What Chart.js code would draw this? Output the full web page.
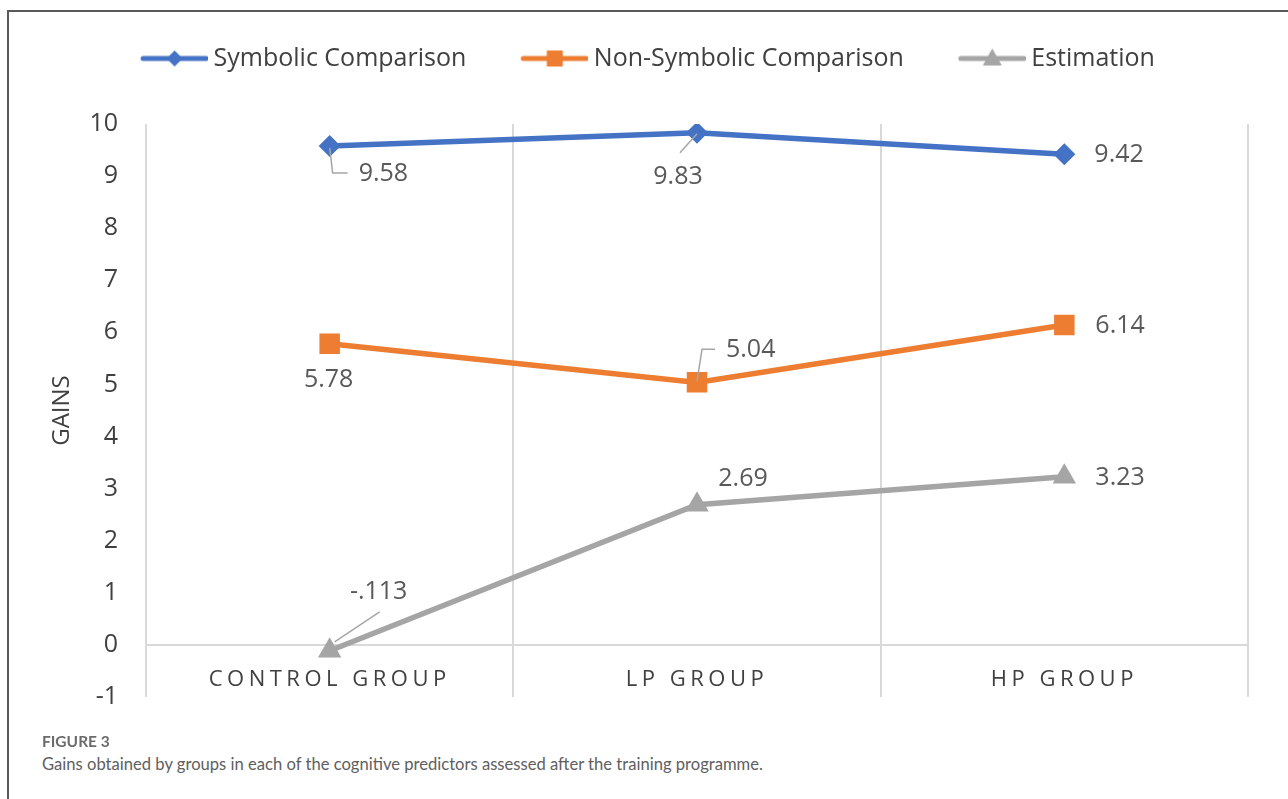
<!DOCTYPE html>
<html>
<head>
<meta charset="utf-8">
<script src="https://cdn.jsdelivr.net/npm/chart.js@4.4.1/dist/chart.umd.min.js"></script>
<style>
  html, body { margin: 0; padding: 0; background: #fff; width: 1288px; height: 799px; overflow: hidden; }
  #frame { position: absolute; left: 7px; top: 10px; width: 1400px; height: 900px; border: 2px solid #5a5a5a; box-sizing: border-box; }
  #wrap { position: absolute; left: 0; top: 0; width: 1288px; height: 740px; }
  #fig { position: absolute; left: 42px; top: 732px; font-family: Lato, "Open Sans", sans-serif; font-weight: 700; font-size: 15.5px; color: #6b6b6b; }
  #cap { position: absolute; left: 42px; top: 754px; font-family: Lato, "Open Sans", sans-serif; font-size: 16.6px; color: #606060; }
</style>
</head>
<body>
<div id="frame"></div>
<div id="wrap"><canvas id="c" width="1288" height="740"></canvas></div>
<div id="fig">FIGURE 3</div>
<div id="cap">Gains obtained by groups in each of the cognitive predictors assessed after the training programme.</div>
<script>
// ---- data ----
const categories = ['CONTROL GROUP', 'LP GROUP', 'HP GROUP'];
const seriesNames = ['Symbolic Comparison', 'Non-Symbolic Comparison', 'Estimation'];
const symbolic = [9.58, 9.83, 9.42];
const nonSymbolic = [5.78, 5.04, 6.14];
const estimation = [-0.113, 2.69, 3.23];
const yTicks = [-1, 0, 1, 2, 3, 4, 5, 6, 7, 8, 9, 10];

// ---- styles ----
const colors = ['#4472C4', '#ED7D31', '#A5A5A5'];
const markers = ['rectRot', 'rect', 'triangle'];
const markerRadius = [11, 14.5, 13.5];
const FONT = '"Open Sans", Lato, sans-serif';

// label placement (offsets from the point, in px) and leader lines
const labelLayout = [
  [ {dx: 29, dy: 28, align: 'left', leader: [[0, 2], [3, 27], [18, 27]]},
    {dx: -19, dy: 44, align: 'center', leader: [[0, 1], [-17, 20]]},
    {dx: 30, dy: 1, align: 'left'} ],
  [ {dx: -1, dy: 36, align: 'center'},
    {dx: 29, dy: -32, align: 'left', leader: [[0, -1], [5, -33], [18, -33]]},
    {dx: 31, dy: 1, align: 'left'} ],
  [ {dx: 49, dy: -59, align: 'center', leader: [[50, -39], [5, -9]]},
    {dx: 46, dy: -26, align: 'center'},
    {dx: 31, dy: 1, align: 'left'} ]
];

function fmt(v) {
  if (v < 0 && v > -1) return '-' + Math.abs(v).toFixed(3).replace(/^0/, '');
  return v.toFixed(2);
}

// legend symbols: line + marker
function legendSymbol(i) {
  const c = document.createElement('canvas');
  c.width = 93; c.height = 24;
  const g = c.getContext('2d');
  g.strokeStyle = colors[i]; g.fillStyle = colors[i];
  g.lineWidth = 5; g.lineCap = 'round';
  g.beginPath(); g.moveTo(28, 12); g.lineTo(91, 12); g.stroke();
  const cx = 59.5, cy = 12;
  g.beginPath();
  if (i === 0) { g.moveTo(cx - 8, cy); g.lineTo(cx, cy - 8); g.lineTo(cx + 8, cy); g.lineTo(cx, cy + 8); }
  else if (i === 1) { g.rect(cx - 8, cy - 8, 16, 16); }
  else { g.moveTo(cx, cy - 10); g.lineTo(cx + 9.5, cy + 7); g.lineTo(cx - 9.5, cy + 7); }
  g.closePath(); g.fill();
  return c;
}
const legendImgs = [0, 1, 2].map(legendSymbol);

const dataLabels = {
  id: 'dataLabels',
  afterDatasetsDraw(chart) {
    const ctx = chart.ctx;
    ctx.save();
    ctx.font = '25px ' + FONT;
    ctx.fillStyle = '#595959';
    ctx.textBaseline = 'middle';
    chart.data.datasets.forEach((ds, di) => {
      const meta = chart.getDatasetMeta(di);
      meta.data.forEach((pt, i) => {
        const L = labelLayout[di][i];
        if (L.leader) {
          ctx.beginPath();
          ctx.strokeStyle = '#a6a6a6'; ctx.lineWidth = 1.5;
          L.leader.forEach((p, k) => { if (k === 0) ctx.moveTo(pt.x + p[0], pt.y + p[1]); else ctx.lineTo(pt.x + p[0], pt.y + p[1]); });
          ctx.stroke();
        }
        ctx.textAlign = L.align;
        ctx.fillText(fmt(ds.data[i]), pt.x + L.dx, pt.y + L.dy);
      });
    });
    ctx.restore();
  }
};

const spacedLabels = {
  id: 'spacedLabels',
  beforeDraw(chart) {
    const xs = chart.scales.x;
    if (!xs._spaced) {
      const orig = xs.drawLabels.bind(xs);
      xs.drawLabels = function (area) {
        const ctx = chart.ctx;
        ctx.save();
        ctx.letterSpacing = '4.5px';
        orig(area);
        ctx.restore();
      };
      xs._spaced = true;
    }
  }
};

const datasets = [symbolic, nonSymbolic, estimation].map((d, i) => ({
  label: seriesNames[i],
  data: d,
  borderColor: colors[i],
  backgroundColor: colors[i],
  borderWidth: 5.5,
  pointStyle: markers[i],
  pointRadius: markerRadius[i],
  pointHoverRadius: markerRadius[i],
  pointBorderWidth: 0,
  pointBackgroundColor: colors[i],
  tension: 0,
  fill: false
}));

new Chart(document.getElementById('c'), {
  type: 'line',
  data: { labels: categories, datasets },
  plugins: [dataLabels, spacedLabels],
  options: {
    responsive: false,
    animation: false,
    layout: { padding: { left: 29, right: 40, top: 10, bottom: 3 } },
    plugins: {
      tooltip: { enabled: false },
      title: { display: true, text: '', weight: 500, font: { size: 1, lineHeight: 1 }, padding: { top: 0, bottom: 42 } },
      legend: {
        position: 'top',
        weight: 3000,
        labels: {
          usePointStyle: true,
          pointStyleWidth: 79,
          padding: 36,
          color: '#404040',
          font: { family: FONT, size: 25 },
          generateLabels(chart) {
            const items = Chart.defaults.plugins.legend.labels.generateLabels(chart);
            items.forEach((it, k) => { it.pointStyle = legendImgs[k]; });
            return items;
          }
        }
      }
    },
    scales: {
      x: {
        type: 'category',
        position: { y: 0 },
        offset: true,
        grid: { display: true, offset: true, color: '#d9d9d9', lineWidth: 2, drawTicks: false },
        border: { display: true, color: '#d9d9d9', width: 2 },
        ticks: { color: '#404040', font: { family: FONT, size: 22 }, padding: 22, maxRotation: 0, autoSkip: false }
      },
      y: {
        min: -1, max: 10,
        afterBuildTicks(scale) { scale.ticks = yTicks.map(v => ({ value: v })); },
        afterFit(scale) { scale.width = 117; },
        grid: { display: false, drawTicks: false },
        border: { display: false },
        ticks: { color: '#404040', font: { family: FONT, size: 25 }, padding: 28 },
        title: { display: true, text: 'GAINS', color: '#404040', font: { family: FONT, size: 24 }, padding: { top: 19, bottom: 0 } }
      }
    }
  }
});
</script>
</body>
</html>
